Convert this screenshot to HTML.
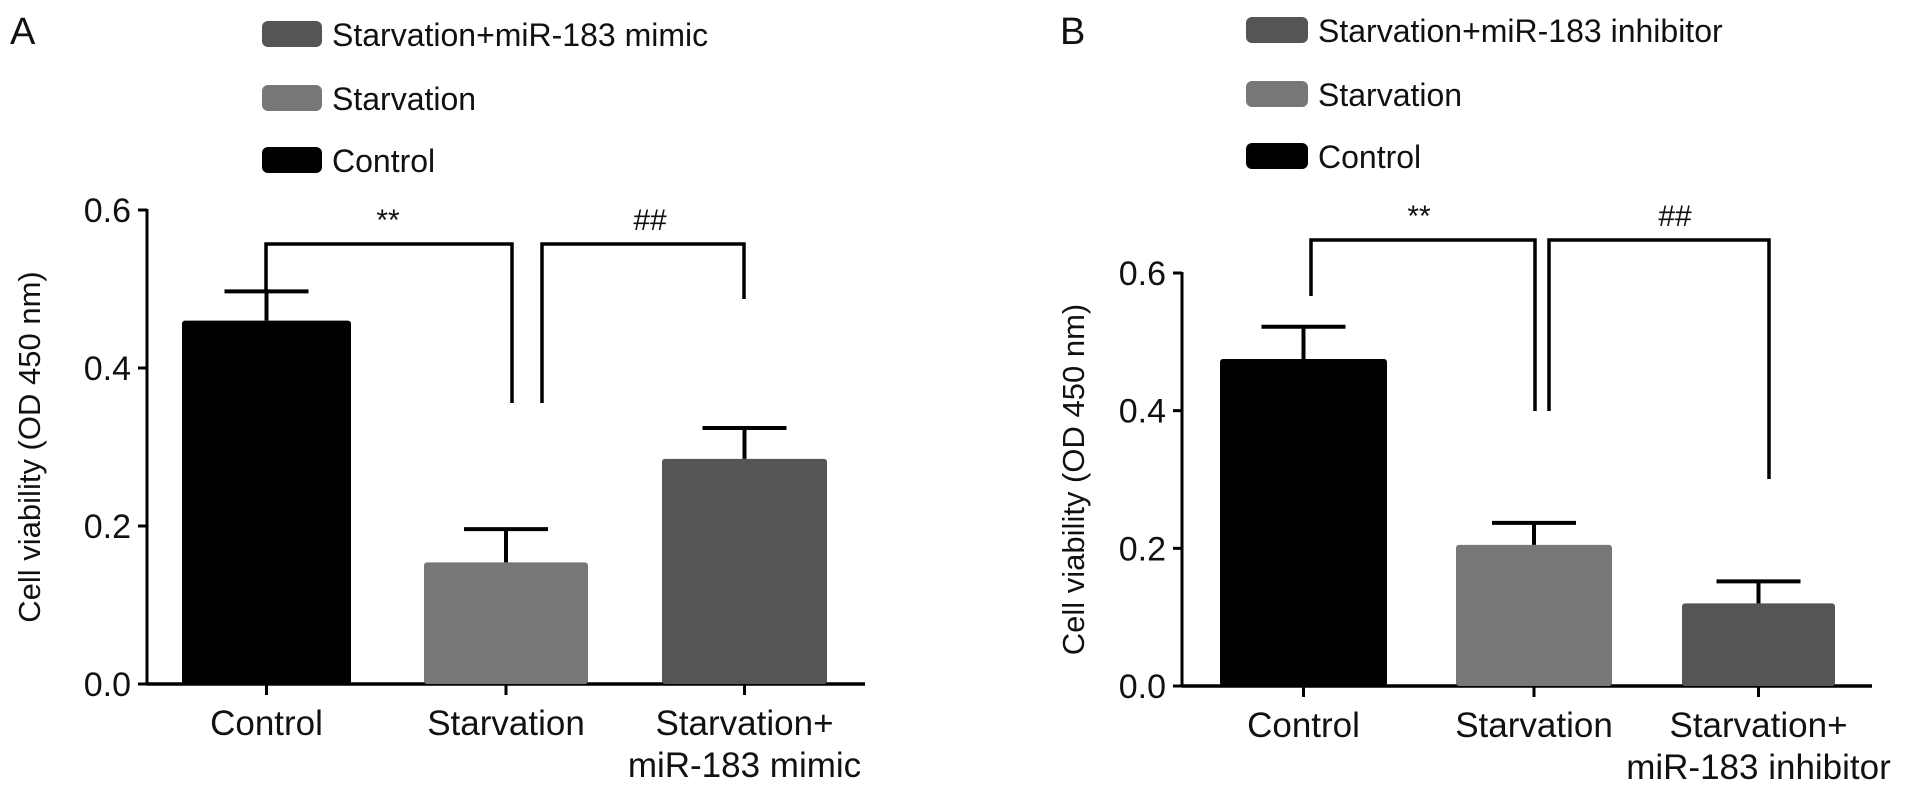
<!DOCTYPE html>
<html><head><meta charset="utf-8"><style>
body{margin:0;background:#fff}
svg{display:block;font-family:"Liberation Sans",Arial,sans-serif}
</style></head><body>
<svg id="c" width="1913" height="793"></svg>
<script>
const categoriesA=["Control","Starvation","Starvation+|miR-183 mimic"];
const valuesA=[0.46,0.154,0.285];
const errorsA=[0.037,0.042,0.039];
const categoriesB=["Control","Starvation","Starvation+|miR-183 inhibitor"];
const valuesB=[0.475,0.205,0.12];
const errorsB=[0.047,0.032,0.032];
const ticks=[0,0.2,0.4,0.6];
const tickLabels=["0.0","0.2","0.4","0.6"];
const legendA=["Starvation+miR-183 mimic","Starvation","Control"];
const legendB=["Starvation+miR-183 inhibitor","Starvation","Control"];
const colors=["#000","#777","#555"];
const legendColors=["#555","#777","#000"];

const svg=document.getElementById('c');
const NS="http://www.w3.org/2000/svg";
function mk(t,a,p){const e=document.createElementNS(NS,t);for(const k in a)e.setAttribute(k,a[k]);(p||svg).appendChild(e);return e;}
function txt(s,x,y,size,anchor,p){const e=mk('text',{x:x,y:y,'font-size':size,'text-anchor':anchor||'middle',fill:'#111'},p);e.textContent=s;return e;}

function panel(cfg){
  const g=mk('g',{});
  
  
  const Y=v=>cfg.y0-v/0.6*(cfg.y0-cfg.y6);
  const l=txt(cfg.letter,cfg.lx,cfg.ly,38,'start',g);
  
  const ax=mk('line',{x1:cfg.ax,x2:cfg.ax,y1:Y(0.6)-1,y2:Y(0)+1,stroke:'#000','stroke-width':3},g);
  
  const xa=mk('line',{x1:cfg.ax,x2:cfg.axEnd,y1:Y(0),y2:Y(0),stroke:'#000','stroke-width':3.5},g);
  
  ticks.forEach((t,i)=>{
    mk('line',{x1:cfg.ax-9,x2:cfg.ax,y1:Y(t),y2:Y(t),stroke:'#000','stroke-width':3},g);
    const tl=txt(tickLabels[i],cfg.ax-16,Y(t)+12,34,'end',g);
    
  });
  const yl=txt("Cell viability (OD 450 nm)",0,0,31,'middle',g);
  yl.setAttribute('transform',`translate(${cfg.ylx},${(Y(0)+Y(0.6))/2}) rotate(-90)`);
  
  cfg.vals.forEach((v,i)=>{
    const [x1,x2]=cfg.bx[i];const cx=(x1+x2)/2;
    const b=mk('rect',{x:x1,y:Y(v),width:x2-x1,height:Y(0)-Y(v),fill:colors[i],rx:3},g);
    
    mk('line',{x1:cx,x2:cx,y1:Y(0),y2:Y(0)+11,stroke:'#000','stroke-width':3},g);
    const ey=Y(v+cfg.errs[i]);
    const e=mk('path',{d:`M${cx},${Y(v)} V${ey} M${cx-42},${ey} H${cx+42}`,stroke:'#000','stroke-width':4,fill:'none'},g);
    
    const parts=cfg.cats[i].split('|');
    parts.forEach((p,j)=>{const t=txt(p,cx,Y(0)+51+j*42,35,'middle',g);
      });
  });
  cfg.brackets.forEach(br=>{
    const p=mk('path',{d:`M${br[0]},${br[3]} V${br[2]} H${br[1]} V${br[4]}`,stroke:'#000','stroke-width':3.5,fill:'none'},g);
    
    const t=txt(br[5],br[6],br[2]-14,30,'middle',g);
    
  });
  cfg.legend.forEach((s,i)=>{
    const y=cfg.legY[i];
    const r=mk('rect',{x:cfg.legX,y:y-13,width:cfg.legW,height:26,rx:6,fill:legendColors[i]},g);
    
    const t=txt(s,cfg.legX+cfg.legW+10,y+12,32,'start',g);
    
  });
}
panel({name:'panel-a',letter:'A',lx:10,ly:44,ax:147,axEnd:865,y0:684,y6:210,ylx:40,
  vals:valuesA,errs:errorsA,cats:categoriesA,bx:[[182,351],[424,588],[662,827]],
  brackets:[[266,512,244,290,403,'**',388],[542,744,244,403,299,'##',650]],
  legend:legendA,legX:262,legW:60,legY:[34,98,160]});
panel({name:'panel-b',letter:'B',lx:1060,ly:44,ax:1182,axEnd:1872,y0:686,y6:273,ylx:1084,
  vals:valuesB,errs:errorsB,cats:categoriesB,bx:[[1220,1387],[1456,1612],[1682,1835]],
  brackets:[[1311,1535,240,296,411,'**',1419],[1549,1769,240,411,479,'##',1675]],
  legend:legendB,legX:1246,legW:62,legY:[30,94,156]});
</script>
</body></html>
